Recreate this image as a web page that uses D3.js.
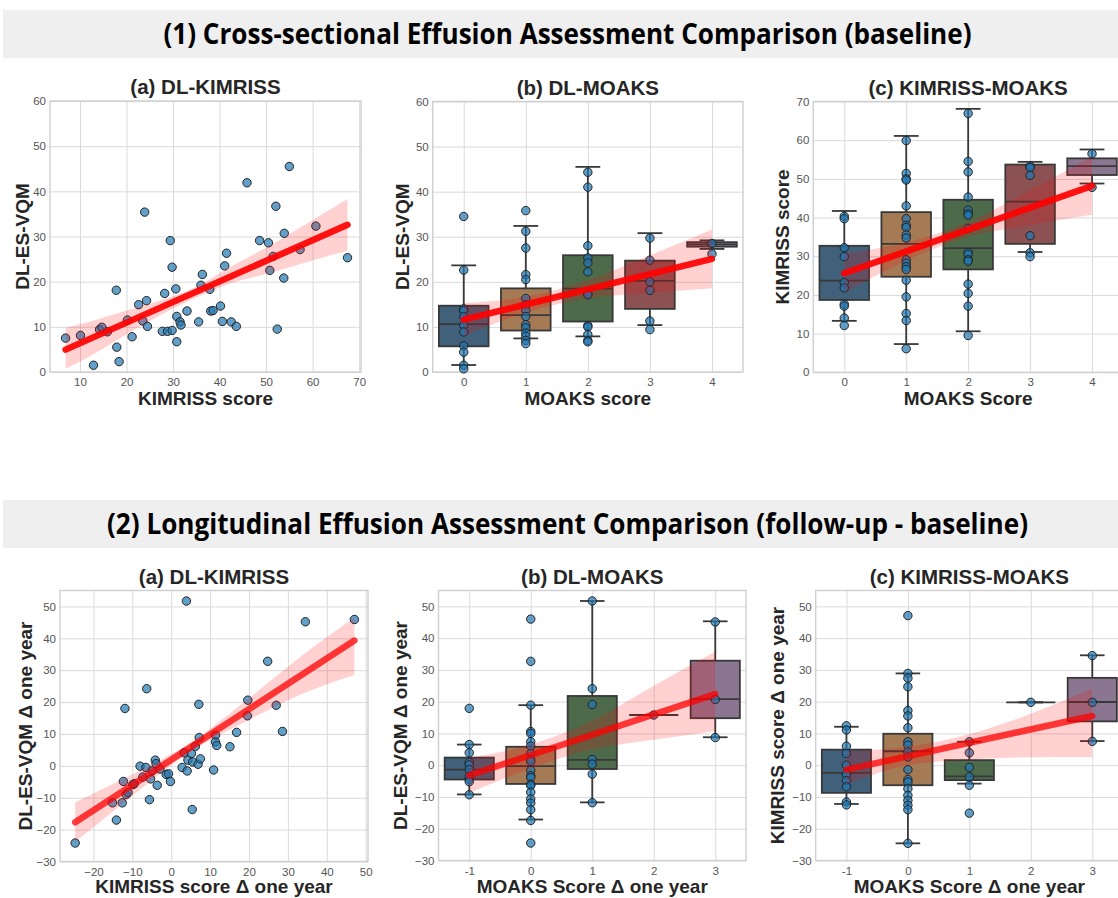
<!DOCTYPE html>
<meta charset="utf-8">
<html>
  <style>
    body, html{ margin: 0; background: #fff;}
    text{ font-family: 'Liberation Sans', Arial, sans-serif; }
    .tick text{ font-size: 11.5px; fill: #555; }
    .tick line{ stroke: #dadada; stroke-width: 1; }
    .domain{ display: none; }
    .title, .axis-label{ font-weight: bold; fill: #262626; font-size: 19px; }
    .title{ font-size: 20.5px; }
    .header{ font-family: 'Open Sans', sans-serif; font-weight: bold; font-size: 28px; fill: #000; }
    .box rect, .box line{ stroke: #383838; stroke-width: 1.8; }
    .pt{ fill: #1f77b4; fill-opacity: .7; stroke: #222; stroke-width: 1; }
    .band{ fill: #ff0000; fill-opacity: .18; }
    .fit{ stroke: #ff0000; stroke-width: 6.5; fill: none; stroke-linecap: round; }
  </style>
  <body>
    <svg></svg>
    <script src="https://cdnjs.cloudflare.com/ajax/libs/d3/7.8.5/d3.min.js"></script>
    <script>
// ---- data ----
// (1a) baseline scatter
var kimrissBase = [6.9,10.1,12.9,14.2,14.7,15.9,17.8,17.9,18.4,20.2,21.2,22.6,23.5,23.9,24.3,24.5,27.7,28.2,28.8,29.4,29.8,29.8,30.6,30.8,30.8,31.5,31.7,33.0,35.5,36.0,36.3,37.9,38.1,38.6,40.2,40.6,41.1,41.5,42.5,43.6,45.9,48.6,50.5,50.8,51.5,52.1,52.4,53.8,53.9,55.0,57.3,60.7,67.5]
var dlBase = [7.5,8.1,1.5,9.4,9.9,8.9,18.1,5.5,2.3,11.5,7.8,14.9,11.3,35.4,15.8,10.1,9.0,17.4,9.0,29.1,9.2,23.2,18.4,12.3,6.7,11.1,10.4,13.5,11.1,19.2,21.6,18.3,13.5,13.6,14.6,11.2,23.5,26.3,11.1,10.1,41.9,29.1,28.6,22.5,25.6,36.7,9.5,20.8,30.7,45.5,27.1,32.3,25.3]

// (2a) one-year change scatter
var kimrissDelta = [-24.7,-15.1,-14.1,-12.6,-12.3,-11.9,-11.6,-11.1,-9.9,-9.5,-8.0,-7.3,-6.5,-6.3,-5.6,-5.3,-4.9,-4.1,-3.6,-3.9,-2.9,-1.3,-0.7,-0.2,2.8,3.3,3.9,4.1,4.3,5.2,5.4,5.5,6.2,6.9,7.1,7.2,7.5,10.9,11.4,11.4,11.7,15.1,16.8,19.7,19.6,24.8,27.0,28.6,34.5,47.1]
var dlDelta = [-24.2,-11.6,-17.0,-11.6,-4.9,18.0,-9.0,-8.4,-5.9,-5.6,-0.1,-3.5,-0.5,24.2,-10.6,-4.1,-1.6,1.8,-6.1,0.7,-1.0,-2.7,-2.5,-4.9,-0.5,4.1,51.7,-1.6,1.8,3.9,-13.7,1.2,6.1,0.5,19.3,8.9,2.2,-1.3,9.6,7.5,6.4,6.0,10.5,20.6,15.7,32.8,19.0,10.8,45.2,45.9]

// categories
var moaksBase = [0, 1, 2, 3, 4]
var moaksDelta = [-1, 0, 1, 2, 3]

// box stats per category: [whisker low, q1, median, q3, whisker high]
var dlByMoaksBox = [[1.55,5.7,10.6,14.7,23.65],[7.45,9.2,12.6,18.55,32.4],[7.9,11.2,18.5,25.9,45.5],[10.4,14.0,20.2,24.7,30.8],[27.3,27.8,28.3,28.8,29.2]]
var kimByMoaksBox = [[13.3,18.7,23.7,32.7,41.7],[7.3,24.7,33.2,41.4,61.1],[10.6,26.6,32.1,44.6,68.1],[31.1,33.2,44.1,53.7,54.4],[48.8,51.0,53.3,55.3,57.6]]
var dlDByMoaksDBox = [[-9.2,-4.5,-1.4,2.4,6.5],[-17.1,-5.9,-0.3,5.8,18.9],[-11.7,-1.2,1.7,21.8,51.7],[15.8,15.8,15.8,15.8,15.8],[8.8,14.8,20.8,32.9,45.3]]
var kimDByMoaksDBox = [[-12.2,-8.7,-2.4,4.9,12.1],[-24.6,-6.3,4.4,9.9,28.9],[-5.8,-4.7,-3.5,1.6,7.4],[19.8,19.8,19.8,19.8,19.8],[7.6,13.8,19.9,27.5,34.6]]

// strip points per category
var dlByMoaksPts = [
  [34.5,22.6,14.0,13.6,12.3,10.4,8.9,5.8,4.4,1.5,0.7],
  [35.8,31.2,27.5,21.6,20.5,16.3,14.9,13.7,12.3,10.5,9.8,8.6,7.9,7.0,6.3],
  [44.3,41.0,28.0,25.3,24.2,22.2,17.4,17.1,10.3,10.0,8.3,7.0,6.7],
  [29.7,24.8,20.0,18.1,11.3,9.4],
  [28.5,26.2]]
var kimByMoaksPts = [
  [40.3,39.7,32.2,29.9,23.2,21.8,17.6,17.1,14.0,12.1],
  [59.9,51.4,50.0,49.7,43.0,39.7,38.0,37.4,35.5,34.7,29.1,28.2,27.3,26.6,23.8,19.5,15.2,13.4,6.1],
  [66.9,54.5,51.8,45.3,41.9,41.0,40.6,37.2,31.0,30.5,29.1,28.7,22.8,20.4,17.1,9.5],
  [53.3,52.9,50.9,35.3,30.9,29.9],
  [56.5,47.8]]
var dlDByMoaksDPts = [
  [17.9,6.5,3.9,0.9,0.1,-1.4,-3.5,-4.5,-5.2,-9.3],
  [46.0,32.7,18.9,10.6,10.0,7.4,6.0,3.7,1.8,1.2,-1.6,-3.3,-3.9,-6.0,-6.4,-8.5,-10.6,-11.9,-14.0,-17.4,-24.5],
  [51.7,24.1,19.1,1.8,0.3,-2.8,-11.8],
  [15.8],
  [45.1,20.7,8.7]]
var kimDByMoaksDPts = [
  [12.4,11.1,6.0,3.7,0.0,-2.8,-4.9,-6.8,-11.6,-12.5],
  [47.1,28.9,27.4,24.7,17.2,15.5,11.8,7.4,6.3,4.2,2.6,-1.4,-4.5,-5.3,-7.4,-9.5,-11.1,-12.6,-14.0,-24.6],
  [7.4,3.9,-0.7,-3.7,-6.3,-15.1],
  [19.8],
  [34.5,19.8,7.5]]

// regression line ends and 95% CI band as drawn
var fit1aX = [6.9,13,20,27,35,42,50,58,67.5]
var fit1aLo = [0.7,4.0,8.3,12.4,16.5,19.5,21.7,24.1,26.9]
var fit1aHi = [9.8,11.4,13.6,15.8,18.9,23.1,27.5,32.4,38.3]
var fit1aLine = [4.95, 32.6]
var fit1bLo = [7.9,13.2,16.3,17.6,18.6]
var fit1bHi = [15.3,16.7,20.4,25.9,31.6]
var fit1bLine = [11.6, 25.1]
var fit1cLo = [20.5,28.9,35.0,38.0,40.7]
var fit1cHi = [30.7,33.6,38.8,47.1,55.8]
var fit1cLine = [25.6, 48.2]
var fit2aX = [-24.7,-17,-10,5,20,33,47.1]
var fit2aLo = [-23.9,-16.3,-9.4,4.5,14.4,22.2,28.5]
var fit2aHi = [-11.5,-6.9,-2.7,7.3,21.2,34.0,46.5]
var fit2aLine = [-17.7, 39.3]
var fit2bLo = [-8.7,-1.0,5.0,8.0,10.8]
var fit2bHi = [2.3,6.5,14.0,25.0,35.8]
var fit2bLine = [-3.2, 22.4]
var fit2cLo = [-6.0,0.0,1.8,2.5,2.6]
var fit2cHi = [4.5,5.8,9.8,16.2,24.2]
var fit2cLine = [-1.4, 15.5]

var boxColors = ['#41617a', '#a47b55', '#4d6b4b', '#8c5253', '#8b7691']

// ---- drawing ----
var W = 1118, H = 898
var svg = d3.select('svg').attr('width', W).attr('height', H)

// section headers
var headers = [
  { text: '(1) Cross-sectional Effusion Assessment Comparison (baseline)', y: 10, len: 808 },
  { text: '(2) Longitudinal Effusion Assessment Comparison (follow-up - baseline)', y: 500, len: 921 }
]
headers.forEach(function(h){
  svg.append('rect').attr('x', 3).attr('y', h.y).attr('width', W - 3).attr('height', 48).attr('fill', '#efefef')
  svg.append('text').attr('class', 'header').attr('x', 567.5).attr('y', h.y + 34)
    .attr('text-anchor', 'middle').attr('textLength', h.len).attr('lengthAdjust', 'spacingAndGlyphs').text(h.text)
})

function panel(p){
  var g = svg.append('g')
  var x = d3.scaleLinear().domain(p.xdom).range([p.left, p.right])
  var y = d3.scaleLinear().domain(p.ydom).range([p.bottom, p.top])
  var xa = d3.axisBottom(x).tickValues(p.xticks).tickSize(-(p.bottom - p.top)).tickPadding(6)
  if (p.xfmt) xa.tickFormat(p.xfmt)
  g.append('g').attr('transform', 'translate(0,' + p.bottom + ')').call(xa)
  g.append('g').attr('transform', 'translate(' + p.left + ',0)')
    .call(d3.axisLeft(y).tickValues(p.yticks).tickSize(-(p.right - p.left)).tickPadding(4))
  g.selectAll('.tick text').attr('font-family', null).attr('font-size', null)
  g.append('rect').attr('x', p.left).attr('y', p.top).attr('width', p.right - p.left).attr('height', p.bottom - p.top)
    .attr('fill', 'none').attr('stroke', '#cfcfcf').attr('stroke-width', 1.4)
  g.append('text').attr('class', 'title').attr('x', (p.left + p.right) / 2).attr('y', p.top - 7)
    .attr('text-anchor', 'middle').text(p.title)
  g.append('text').attr('class', 'axis-label').attr('x', (p.left + p.right) / 2).attr('y', p.xlabY)
    .attr('text-anchor', 'middle').text(p.xlab)
  g.append('text').attr('class', 'axis-label')
    .attr('transform', 'translate(' + p.ylabX + ',' + (p.top + p.bottom) / 2 + ') rotate(-90)')
    .attr('text-anchor', 'middle').attr('dy', '0.35em').text(p.ylab)
  return { g: g, x: x, y: y }
}

function boxes(P, cats, stats, pts){
  var step = P.x(1) - P.x(0), bw = step * 0.8, cw = step * 0.4
  cats.forEach(function(c, i){
    var s = stats[i], cx = P.x(c)
    var b = P.g.append('g').attr('class', 'box')
    b.append('line').attr('x1', cx).attr('x2', cx).attr('y1', P.y(s[0])).attr('y2', P.y(s[1]))
    b.append('line').attr('x1', cx).attr('x2', cx).attr('y1', P.y(s[3])).attr('y2', P.y(s[4]))
    b.append('line').attr('x1', cx - cw / 2).attr('x2', cx + cw / 2).attr('y1', P.y(s[0])).attr('y2', P.y(s[0]))
    b.append('line').attr('x1', cx - cw / 2).attr('x2', cx + cw / 2).attr('y1', P.y(s[4])).attr('y2', P.y(s[4]))
    b.append('rect').attr('x', cx - bw / 2).attr('width', bw).attr('y', P.y(s[3]))
      .attr('height', P.y(s[1]) - P.y(s[3])).attr('fill', boxColors[i])
    b.append('line').attr('x1', cx - bw / 2).attr('x2', cx + bw / 2).attr('y1', P.y(s[2])).attr('y2', P.y(s[2]))
  })
  cats.forEach(function(c, i){
    P.g.selectAll(null).data(pts[i]).enter().append('circle').attr('class', 'pt')
      .attr('cx', P.x(c)).attr('cy', function(d){ return P.y(d) }).attr('r', 4.2)
  })
}

function scatter(P, xs, ys){
  P.g.selectAll(null).data(xs).enter().append('circle').attr('class', 'pt')
    .attr('cx', function(d){ return P.x(d) }).attr('cy', function(d, i){ return P.y(ys[i]) }).attr('r', 4.2)
}

function fit(P, xs, lo, hi, line, op){
  var rows = xs.map(function(d, i){ return { x: d, lo: lo[i], hi: hi[i] } })
  P.g.append('path').attr('class', 'band').datum(rows)
    .attr('d', d3.area().curve(d3.curveMonotoneX)
      .x(function(d){ return P.x(d.x) }).y0(function(d){ return P.y(d.lo) }).y1(function(d){ return P.y(d.hi) }))
  P.g.append('line').attr('class', 'fit').attr('stroke-opacity', op)
    .attr('x1', P.x(xs[0])).attr('x2', P.x(xs[xs.length - 1]))
    .attr('y1', P.y(line[0])).attr('y2', P.y(line[1]))
}

var intFmt = function(d){ return String(d) }

// row 1
var p1a = panel({ left: 50, right: 361, top: 101, bottom: 372, xdom: [3.55, 70.4], ydom: [0, 60],
  xticks: d3.range(10, 71, 10), yticks: d3.range(0, 61, 10), title: '(a) DL-KIMRISS',
  xlab: 'KIMRISS score', xlabY: 405, ylab: 'DL-ES-VQM', ylabX: 22 })
scatter(p1a, kimrissBase, dlBase)
fit(p1a, fit1aX, fit1aLo, fit1aHi, fit1aLine, 0.92)

var p1b = panel({ left: 432.7, right: 743, top: 101.5, bottom: 372, xdom: [-0.5, 4.5], ydom: [0, 60],
  xticks: moaksBase, xfmt: intFmt, yticks: d3.range(0, 61, 10), title: '(b) DL-MOAKS',
  xlab: 'MOAKS score', xlabY: 405, ylab: 'DL-ES-VQM', ylabX: 402 })
boxes(p1b, moaksBase, dlByMoaksBox, dlByMoaksPts)
fit(p1b, moaksBase, fit1bLo, fit1bHi, fit1bLine, 0.92)

var p1c = panel({ left: 813.3, right: 1123, top: 101.5, bottom: 372.3, xdom: [-0.5, 4.5], ydom: [0, 70],
  xticks: moaksBase, xfmt: intFmt, yticks: d3.range(0, 71, 10), title: '(c) KIMRISS-MOAKS',
  xlab: 'MOAKS Score', xlabY: 405, ylab: 'KIMRISS score', ylabX: 782 })
boxes(p1c, moaksBase, kimByMoaksBox, kimByMoaksPts)
fit(p1c, moaksBase, fit1cLo, fit1cHi, fit1cLine, 0.92)

// row 2
var p2a = panel({ left: 60, right: 368, top: 590.5, bottom: 861.5, xdom: [-28.6, 50.6], ydom: [-30, 55],
  xticks: d3.range(-20, 51, 10), yticks: d3.range(-30, 51, 10), title: '(a) DL-KIMRISS',
  xlab: 'KIMRISS score \u0394 one year', xlabY: 893, ylab: 'DL-ES-VQM \u0394 one year', ylabX: 25 })
scatter(p2a, kimrissDelta, dlDelta)
fit(p2a, fit2aX, fit2aLo, fit2aHi, fit2aLine, 0.75)

var p2b = panel({ left: 438.5, right: 746, top: 590.5, bottom: 860.5, xdom: [-1.5, 3.5], ydom: [-30, 55],
  xticks: moaksDelta, xfmt: intFmt, yticks: d3.range(-30, 51, 10), title: '(b) DL-MOAKS',
  xlab: 'MOAKS Score \u0394 one year', xlabY: 893, ylab: 'DL-ES-VQM \u0394 one year', ylabX: 400 })
boxes(p2b, moaksDelta, dlDByMoaksDBox, dlDByMoaksDPts)
fit(p2b, moaksDelta, fit2bLo, fit2bHi, fit2bLine, 0.75)

var p2c = panel({ left: 815.7, right: 1123, top: 590.5, bottom: 860.5, xdom: [-1.5, 3.5], ydom: [-30, 55],
  xticks: moaksDelta, xfmt: intFmt, yticks: d3.range(-30, 51, 10), title: '(c) KIMRISS-MOAKS',
  xlab: 'MOAKS Score \u0394 one year', xlabY: 893, ylab: 'KIMRISS score \u0394 one year', ylabX: 777 })
boxes(p2c, moaksDelta, kimDByMoaksDBox, kimDByMoaksDPts)
fit(p2c, moaksDelta, fit2cLo, fit2cHi, fit2cLine, 0.75)
    </script>
  </body>
</html>
